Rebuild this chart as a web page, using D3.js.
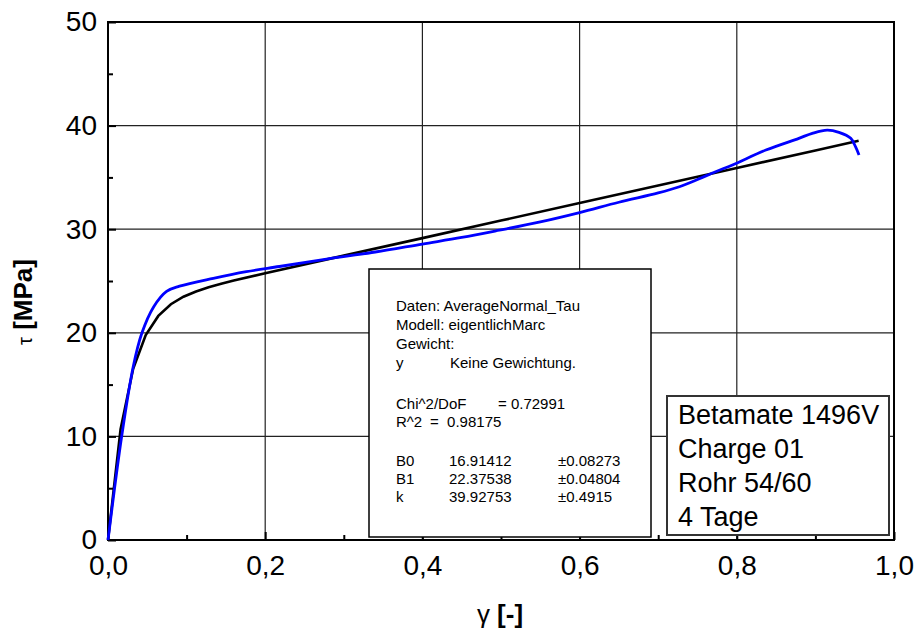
<!DOCTYPE html>
<html>
<head>
<meta charset="utf-8">
<script src="https://cdn.jsdelivr.net/npm/d3@7"></script>
<style>
  body { margin: 0; background: #fff; }
  svg { display: block; font-family: "Liberation Sans", Arial, sans-serif; }
  text { white-space: pre; }
</style>
</head>
<body>
<div id="chart"></div>
<script>
const gammaMeas = [0, 0.0174, 0.032, 0.043, 0.058, 0.0745, 0.091, 0.134, 0.176, 0.218, 0.278, 0.34, 0.40,
  0.45, 0.498, 0.55, 0.60, 0.65, 0.70, 0.727, 0.75, 0.773, 0.7945, 0.837, 0.879, 0.896, 0.915, 0.930,
  0.945, 0.951, 0.9555];
const tauMeas = [0, 10.0, 16.7, 19.95, 22.5, 24.0, 24.5, 25.26, 25.9, 26.4, 27.12, 27.8, 28.57,
  29.2, 29.9, 30.7, 31.6, 32.6, 33.5, 34.1, 34.8, 35.55, 36.2, 37.64, 38.77, 39.25, 39.57, 39.35,
  38.77, 37.96, 37.16];

// fit curve (black)
const gammaFit = [0, 0.016, 0.032, 0.048, 0.064, 0.080, 0.096, 0.112, 0.128, 0.144, 0.160, 0.2, 0.3,
  0.4, 0.5, 0.6, 0.7, 0.8, 0.9, 0.955];
const tauFit = [0, 10.69, 16.53, 19.78, 21.63, 22.76, 23.48, 23.99, 24.39, 24.73, 25.04, 25.75, 27.45,
  29.14, 30.83, 32.52, 34.21, 35.91, 37.60, 38.53];

const xTicks = [0, 0.2, 0.4, 0.6, 0.8, 1.0];
const xMinor = [0.1, 0.3, 0.5, 0.7, 0.9];
const yTicks = [0, 10, 20, 30, 40, 50];
const yMinor = [5, 15, 25, 35, 45];

const legendLines = ["Betamate 1496V", "Charge 01", "Rohr 54/60", "4 Tage"];

const reportHead = ["Daten: AverageNormal_Tau", "Modell: eigentlichMarc", "Gewicht:"];
const weightRow = ["y", "Keine Gewichtung."];
const statNames = ["Chi^2/DoF", "R^2"];
const statValues = ["= 0.72991", "=  0.98175"];
const paramNames = ["B0", "B1", "k"];
const paramValues = ["16.91412", "22.37538", "39.92753"];
const paramErrors = ["±0.08273", "±0.04804", "±0.4915"];

const W = 915, H = 632;
const margin = { top: 22, right: 21, bottom: 92, left: 108 };
const width = W - margin.left - margin.right;
const height = H - margin.top - margin.bottom;

const svg = d3.select("#chart").append("svg")
  .attr("width", W)
  .attr("height", H);

const g = svg.append("g")
  .attr("transform", "translate(" + margin.left + "," + margin.top + ")");

const x = d3.scaleLinear().domain([0, 1]).range([0, width]);
const y = d3.scaleLinear().domain([0, 50]).range([height, 0]);

const comma = d3.formatLocale({ decimal: ",", thousands: ".", grouping: [3], currency: ["", "€"] });

// grid
g.append("g").selectAll("line")
  .data(xTicks.slice(1, -1))
  .enter().append("line")
  .attr("x1", d => x(d)).attr("x2", d => x(d))
  .attr("y1", 0).attr("y2", height)
  .attr("stroke", "#222").attr("stroke-width", 1.2);

g.append("g").selectAll("line")
  .data(yTicks.slice(1, -1))
  .enter().append("line")
  .attr("x1", 0).attr("x2", width)
  .attr("y1", d => y(d)).attr("y2", d => y(d))
  .attr("stroke", "#222").attr("stroke-width", 1.2);

// axes, ticks pointing inward
const xAxis = g.append("g")
  .attr("transform", "translate(0," + height + ")")
  .call(d3.axisBottom(x).tickValues(xTicks).tickSize(-8).tickSizeOuter(0).tickPadding(15)
    .tickFormat(comma.format(".1f")));
xAxis.selectAll("text")
  .style("font-family", "'Liberation Sans Narrow', 'Arial Narrow', sans-serif")
  .style("font-size", "28px").attr("fill", "#000");

g.append("g")
  .attr("transform", "translate(0," + height + ")")
  .call(d3.axisBottom(x).tickValues(xMinor).tickSize(-5).tickSizeOuter(0).tickFormat(""));

const yAxis = g.append("g")
  .call(d3.axisLeft(y).tickValues(yTicks).tickSize(-8).tickSizeOuter(0).tickPadding(11));
yAxis.selectAll("text")
  .style("font-family", "'Liberation Sans', Arial, sans-serif")
  .style("font-size", "28px").attr("fill", "#000");

g.append("g")
  .call(d3.axisLeft(y).tickValues(yMinor).tickSize(-5).tickSizeOuter(0).tickFormat(""));

g.selectAll(".tick line").attr("stroke", "#000").attr("stroke-width", 2);
g.selectAll(".domain").remove();

// frame
g.append("rect")
  .attr("width", width).attr("height", height)
  .attr("fill", "none").attr("stroke", "#000").attr("stroke-width", 2);

// curves
const lineFit = d3.line()
  .x((d, i) => x(gammaFit[i]))
  .y(d => y(d));

const lineMeas = d3.line()
  .x((d, i) => x(gammaMeas[i]))
  .y(d => y(d))
  .curve(d3.curveCatmullRom);

g.append("path")
  .datum(tauFit)
  .attr("d", lineFit)
  .attr("fill", "none")
  .attr("stroke", "#000")
  .attr("stroke-width", 2.6);

g.append("path")
  .datum(tauMeas)
  .attr("d", lineMeas)
  .attr("fill", "none")
  .attr("stroke", "#0000ff")
  .attr("stroke-width", 2.8);

// fit report box
const rep = svg.append("g");
rep.append("rect")
  .attr("x", 369).attr("y", 269).attr("width", 282).attr("height", 268)
  .attr("fill", "#fff").attr("stroke", "#000").attr("stroke-width", 1.5);

const repText = (tx, ty, s) => rep.append("text")
  .attr("x", tx).attr("y", ty).attr("dy", "0.35em")
  .style("font-size", "15px").text(s);

reportHead.forEach((s, i) => repText(396, 306 + i * 19, s));
repText(396, 363, weightRow[0]);
repText(450, 363, weightRow[1]);
statNames.forEach((s, i) => repText(396, 404 + i * 18, s));
repText(498, 404, statValues[0]);
repText(430, 422, statValues[1]);
paramNames.forEach((s, i) => {
  repText(396, 461 + i * 18, s);
  repText(449, 461 + i * 18, paramValues[i]);
  repText(558, 461 + i * 18, paramErrors[i]);
});

// legend box
const leg = svg.append("g");
leg.append("rect")
  .attr("x", 667).attr("y", 396).attr("width", 222).attr("height", 139)
  .attr("fill", "#fff").attr("stroke", "#333").attr("stroke-width", 2);
leg.selectAll("text")
  .data(legendLines)
  .enter().append("text")
  .attr("x", 678)
  .attr("y", (d, i) => 424 + i * 34)
  .style("font-size", "27px")
  .text(d => d);

// axis titles
svg.append("text")
  .attr("transform", "translate(32," + 302 + ") rotate(-90)")
  .attr("text-anchor", "middle")
  .style("font-size", "26px").style("font-weight", "bold")
  .html("<tspan style='font-weight:normal;font-size:20px'>τ</tspan> [MPa]");

svg.append("text")
  .attr("x", 500).attr("y", 623)
  .attr("text-anchor", "middle")
  .style("font-family", "'Liberation Sans Narrow', 'Arial Narrow', sans-serif")
  .style("font-size", "26px").style("font-weight", "bold")
  .html("<tspan style='font-weight:normal'>γ</tspan> [-]");
</script>
</body>
</html>
